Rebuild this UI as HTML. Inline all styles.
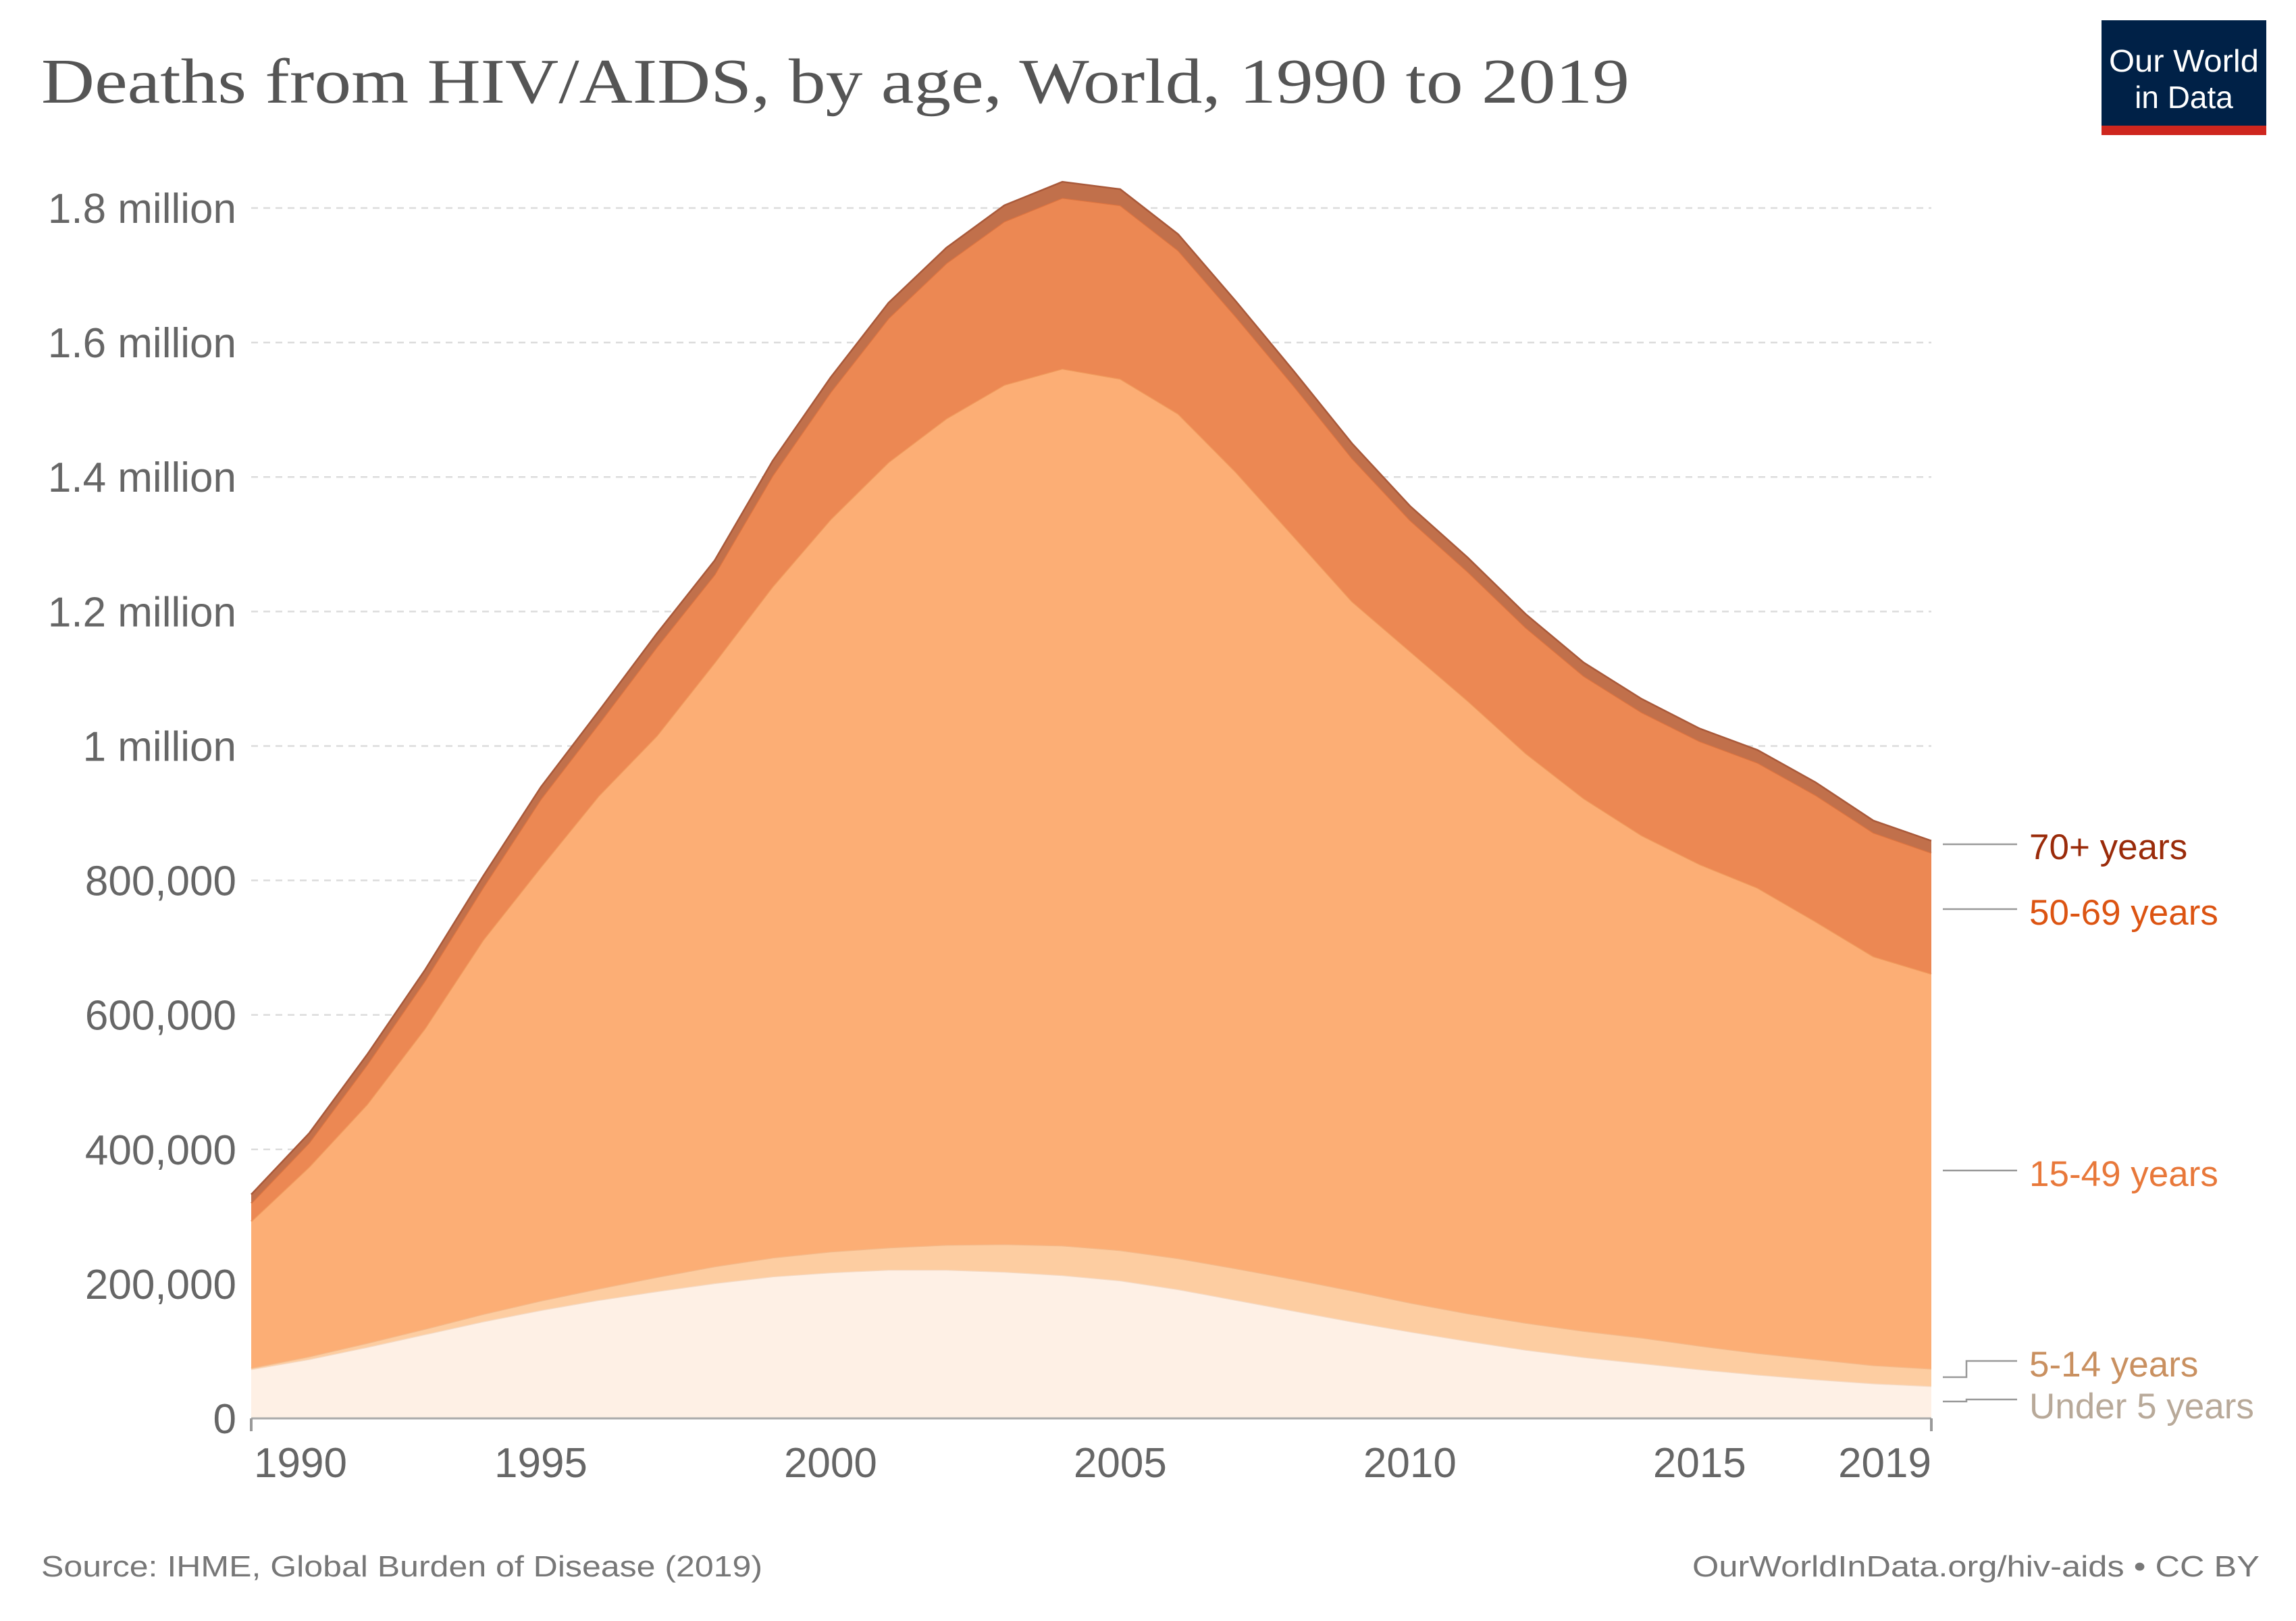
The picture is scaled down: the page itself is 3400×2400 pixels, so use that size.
<!DOCTYPE html>
<html><head><meta charset="utf-8"><style>
html,body{margin:0;padding:0;background:#fff;}
svg{display:block;}
</style></head><body>
<svg id="chart" width="3400" height="2400" viewBox="0 0 3400 2400" xmlns="http://www.w3.org/2000/svg">
<text x="61" y="152" font-family="Liberation Serif, serif" font-size="94" fill="#555" textLength="2352" lengthAdjust="spacingAndGlyphs">Deaths from HIV/AIDS, by age, World, 1990 to 2019</text>
<g>
<rect x="3112" y="30" width="244" height="170" fill="#002147"/>
<rect x="3112" y="186" width="244" height="14" fill="#ce261e"/>
<text x="3234" y="106" text-anchor="middle" font-family="Liberation Sans, sans-serif" font-size="46" fill="#fff" textLength="222" lengthAdjust="spacingAndGlyphs">Our World</text>
<text x="3234" y="160" text-anchor="middle" font-family="Liberation Sans, sans-serif" font-size="46" fill="#fff">in Data</text>
</g>
<g id="grid"></g>
<g id="areas"></g>
<g id="axes"></g>
<g id="legend"></g>
<text x="61" y="2334" font-family="Liberation Sans, sans-serif" font-size="44" fill="#777" textLength="1068" lengthAdjust="spacingAndGlyphs">Source: IHME, Global Burden of Disease (2019)</text>
<text x="3346" y="2334" text-anchor="end" font-family="Liberation Sans, sans-serif" font-size="44" fill="#777" textLength="840" lengthAdjust="spacingAndGlyphs">OurWorldInData.org/hiv-aids • CC BY</text>
</svg>
<script>
const years = [1990,1991,1992,1993,1994,1995,1996,1997,1998,1999,2000,2001,2002,2003,2004,2005,2006,2007,2008,2009,2010,2011,2012,2013,2014,2015,2016,2017,2018,2019];
const under5 = [73,88,106,125,144,161,176,189,201,211,217,221,221,218,213,205,192,176,160,144,129,115,102,91,82,73,65,58,52,48];
const age5to14 = [2,4,6,8,11,14,17,21,25,28,31,33,37,41,44,45,46,47,47,46,43,41,40,39,38,35,32,30,27,26];
const age15to49 = [218,282,355,447,556,645,733,805,898,998,1089,1168,1229,1278,1304,1296,1256,1184,1104,1025,969,911,847,792,747,716,692,651,608,587];
const age50to69 = [27,36,59,71,78,101,107,132,131,165,189,214,231,243,254,258,243,231,224,213,195,192,187,182,183,183,186,188,184,180];
const age70plus = [13,14,15,16,17,18,19,20,21,22,22,23,23,24,24,24,24,23,22,22,21,21,20,20,20,19,19,19,18,18];
const yTicks = [0,200000,400000,600000,800000,1000000,1200000,1400000,1600000,1800000];
const yTickLabels = ["0","200,000","400,000","600,000","800,000","1 million","1.2 million","1.4 million","1.6 million","1.8 million"];
const xTicks = [1990,1995,2000,2005,2010,2015,2019];

const NS = "http://www.w3.org/2000/svg";
const X0 = 372, X1 = 2860, Y0 = 2100, YTOP = 308;
function xs(v){ return X0 + (v - 1990) / (2019 - 1990) * (X1 - X0); }
function ys(v){ return Y0 - v / 1800000 * (Y0 - YTOP); }
function mk(tag, attrs, parent){ const e = document.createElementNS(NS, tag); for (const k in attrs) e.setAttribute(k, attrs[k]); parent.appendChild(e); return e; }

const grid = document.getElementById('grid');
yTicks.forEach((t, i) => {
  if (t > 0) {
    const l = mk('line', {x1: X0, x2: X1, y1: ys(t), y2: ys(t), stroke: '#dcdcdc', 'stroke-width': 2.5, 'stroke-dasharray': '10,8'}, grid);
    
    
  }
  const tx = mk('text', {x: 350, y: ys(t) + 22, 'text-anchor': 'end', 'font-family': 'Liberation Sans, sans-serif', 'font-size': 62, fill: '#666'}, grid);
  tx.textContent = yTickLabels[i];
  
  
});

const series = [
  {name: 'Under 5 years', vals: under5, fill: '#fef0e5', stroke: '#f5d9c2', label: '#b8a999', ly: 2084, lineY: 2075, lineY2: 2072},
  {name: '5-14 years', vals: age5to14, fill: '#fdcda1', stroke: '#f4b888', label: '#c99060', ly: 2022, lineY: 2039, lineY2: 2015},
  {name: '15-49 years', vals: age15to49, fill: '#fcae75', stroke: '#f09a5c', label: '#e8783a', ly: 1740, lineY: 1733, lineY2: 1733},
  {name: '50-69 years', vals: age50to69, fill: '#ec8853', stroke: '#dd7440', label: '#dc5412', ly: 1353, lineY: 1346, lineY2: 1346},
  {name: '70+ years', vals: age70plus, fill: '#c1704b', stroke: '#a9593a', label: '#9a2b0a', ly: 1256, lineY: 1250, lineY2: 1250}
];
const areas = document.getElementById('areas');
const base = years.map(() => 0);
series.forEach(s => {
  const top = base.map((b, i) => b + s.vals[i] * 1000);
  let d = 'M' + years.map((y, i) => xs(y) + ',' + ys(top[i])).join(' L');
  for (let i = years.length - 1; i >= 0; i--) d += ' L' + xs(years[i]) + ',' + ys(base[i]);
  d += ' Z';
  const p = mk('path', {d: d, fill: s.fill}, areas);
  
  
  const ln = mk('path', {d: 'M' + years.map((y, i) => xs(y) + ',' + ys(top[i])).join(' L'), fill: 'none', stroke: s.stroke, 'stroke-width': 2.5}, areas);
  
  
  top.forEach((v, i) => base[i] = v);
});

const axes = document.getElementById('axes');
const ax = mk('line', {x1: X0, x2: X1, y1: Y0, y2: Y0, stroke: '#aaa', 'stroke-width': 3}, axes);


[1990, 2019].forEach(y => {
  const t = mk('line', {x1: xs(y), x2: xs(y), y1: Y0, y2: Y0 + 19, stroke: '#999', 'stroke-width': 4}, axes);
  
  
});
xTicks.forEach(y => {
  const anchor = y === 1990 ? 'start' : (y === 2019 ? 'end' : 'middle');
  const t = mk('text', {x: xs(y) + (y === 1990 ? 4 : 0), y: 2187, 'text-anchor': anchor, 'font-family': 'Liberation Sans, sans-serif', 'font-size': 62, fill: '#666'}, axes);
  t.textContent = y;
  
  
});

const legend = document.getElementById('legend');
series.forEach(s => {
  const d = s.lineY === s.lineY2 ? `M2877,${s.lineY} L2987,${s.lineY}` : `M2877,${s.lineY} L2912,${s.lineY} L2912,${s.lineY2} L2987,${s.lineY2}`;
  const l = mk('path', {d: d, fill: 'none', stroke: '#999', 'stroke-width': 2.5}, legend);
  
  
  const t = mk('text', {x: 3005, y: s.ly + 16, 'font-family': 'Liberation Sans, sans-serif', 'font-size': 53, fill: s.label}, legend);
  t.textContent = s.name;
  
  
});
</script>
</body></html>
